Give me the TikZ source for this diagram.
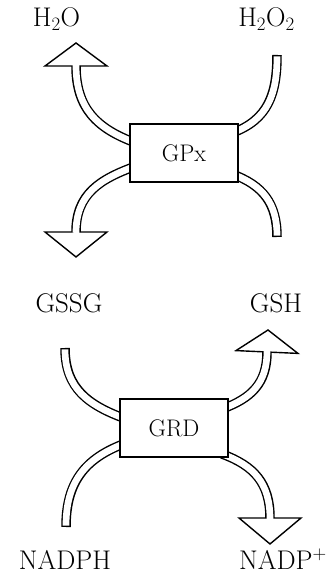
\documentclass[tikz,border=0pt]{standalone}
\usepackage{fontspec}
\usepackage{tikz}
\usetikzlibrary{calc,backgrounds}

\newcommand{\tube}[4]{%
  \draw[tubeout] (#1) to[#3] (#2);
  \draw[tubein, #4] (#1) to[#3] (#2);}
\newcommand{\blockhead}[2]{%
  \draw[line width=1.4pt, fill=white] ($(#1)!31pt!90:(#2)$) -- (#2) -- ($(#1)!31pt!-90:(#2)$) -- cycle;}

\begin{document}
\begin{tikzpicture}[x=1pt, y=1pt,
    enzyme/.style={draw, fill=white, line width=1.4pt, minimum width=108pt, minimum height=58pt, font=\fontsize{24}{28}\selectfont},
    molecule/.style={anchor=base, font=\fontsize{27}{31}\selectfont},
    tubeout/.style={line width=9.5pt},
    tubein/.style={white, line width=6.7pt}]
    \useasboundingbox (0,0) rectangle (330,573);

    \node[enzyme] (gpx) at (184,420) {GPx};
    \node[enzyme] (grd) at (174,145) {GRD};

    \node[molecule] (h2o) at (56.5,546) {H\textsubscript{2}O};
    \node[molecule] (h2o2) at (266.5,546) {H\textsubscript{2}O\textsubscript{2}};
    \node[molecule] (gssg) at (69,260) {GSSG};
    \node[molecule] (gsh) at (276,260) {GSH};
    \node[molecule] (nadph) at (65,4) {NADPH};
    \node[molecule] (nadp) at (283,4) {NADP\textsuperscript{+}};

    \coordinate (h2o-end) at (76,507);
    \coordinate (h2o-tip) at (76,530);
    \coordinate (h2o2-end) at (277,518);
    \coordinate (gssg-in) at (76,341);
    \coordinate (gssg-tip) at (76,316);
    \coordinate (gsh-out) at (277,336);
    \coordinate (gpx-ul) at (136,430);
    \coordinate (gpx-ur) at (232,440);
    \coordinate (gpx-ll) at (136,407);
    \coordinate (gpx-lr) at (232,399);

    \coordinate (gssg-end) at (65,225);
    \coordinate (gsh-end) at (267,221);
    \coordinate (gsh-tip) at (268,243);
    \coordinate (nadph-end) at (66,46);
    \coordinate (nadp-end) at (270,55);
    \coordinate (nadp-tip) at (270,29);
    \coordinate (grd-ul) at (126,154);
    \coordinate (grd-ur) at (222,164);
    \coordinate (grd-ll) at (126,130);
    \coordinate (grd-lr) at (222,119);

    \begin{scope}[on background layer, looseness=1.1]
    \blockhead{h2o-end}{h2o-tip}
    \blockhead{gssg-in}{gssg-tip}
    \blockhead{gsh-end}{gsh-tip}
    \blockhead{nadp-end}{nadp-tip}

    \tube{h2o-end}{gpx-ul}{out=-90, in=160}{shorten <=-0.8pt}
    \tube{h2o2-end}{gpx-ur}{out=-90, in=20}{shorten <=1.4pt}
    \tube{gssg-in}{gpx-ll}{out=90, in=200}{shorten <=-0.8pt}
    \tube{gsh-out}{gpx-lr}{out=90, in=-20}{shorten <=1.4pt}

    \tube{gssg-end}{grd-ul}{out=-90, in=160}{shorten <=1.4pt}
    \tube{gsh-end}{grd-ur}{out=-90, in=20}{shorten <=-0.8pt}
    \tube{nadph-end}{grd-ll}{out=90, in=200}{shorten <=1.4pt}
    \tube{nadp-end}{grd-lr}{out=90, in=-20}{shorten <=-0.8pt}
    \end{scope}
\end{tikzpicture}
\end{document}
